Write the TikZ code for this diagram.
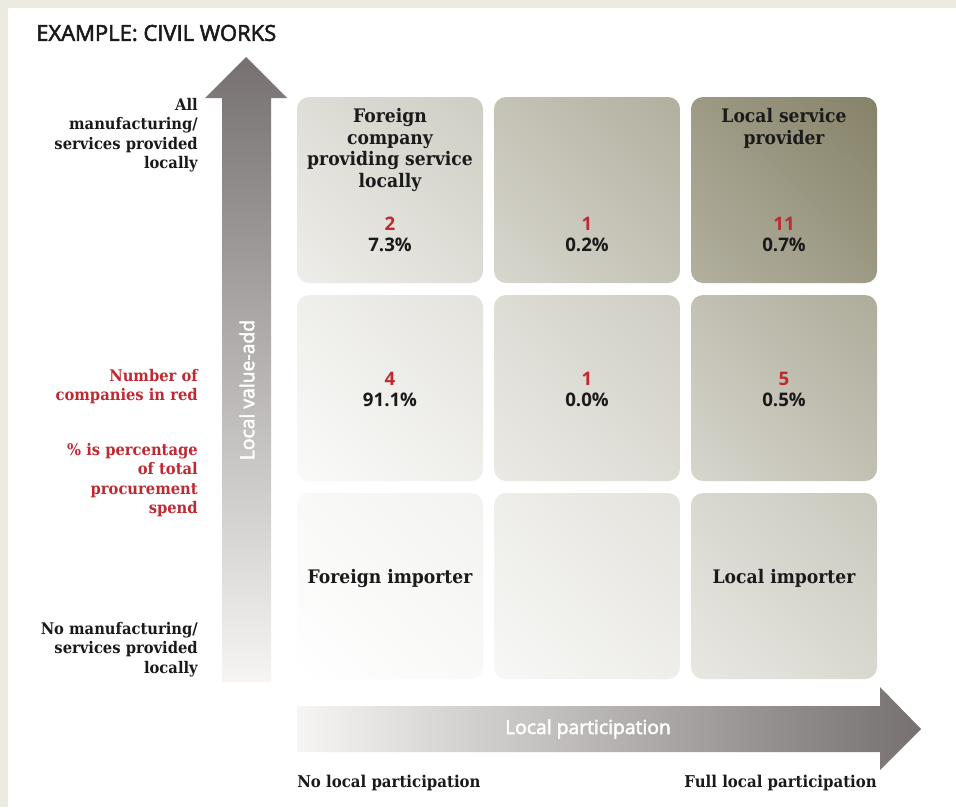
\documentclass[tikz,border=0pt]{standalone}
\usepackage{fontspec}
\setmainfont{DejaVu Serif}[FakeStretch=0.92]
\newfontfamily\labelsans{Open Sans}
\newfontfamily\labelmed{Open Sans}[FakeBold=2.5]
\usepackage{xcolor}
\definecolor{framecolor}{HTML}{EDEAE0}
\definecolor{inkcolor}{HTML}{1A1A1A}
\definecolor{redcolor}{HTML}{BE2A32}
\definecolor{olivecolor}{HTML}{868268}
\definecolor{arrowcolor}{HTML}{767070}
\definecolor{arrowmid}{HTML}{8B8482}
\definecolor{fadecolor}{HTML}{F6F5F4}
\usepackage{tikz}
\usetikzlibrary{positioning,shadings}

\begin{document}
\begin{tikzpicture}[
  x=0.75pt, y=-0.75pt,
  inkcolor,
  cell/.style={shade, rounded corners=9pt, minimum width=139.5pt, minimum height=139.5pt, inner sep=0pt},
  celltext/.style={font=\bfseries\fontsize{14}{16.3}\selectfont, align=center, inner sep=0pt},
  count/.style={font=\labelsans\bfseries\fontsize{14}{16}\selectfont, text=redcolor, inner sep=0pt},
  share/.style={font=\labelsans\bfseries\fontsize{14}{16}\selectfont, inner sep=0pt},
  side/.style={font=\bfseries\fontsize{12}{14.5}\selectfont, align=right, anchor=north east, inner sep=0pt},
  axislabel/.style={font=\labelmed\fontsize{14.5}{16}\selectfont, text=white, inner sep=0pt},
]

  % frame
  \fill[framecolor] (0,0) rectangle (956,807);
  \fill[white] (8,8) rectangle (956,807);
  \useasboundingbox (0,0) rectangle (956,807);

  \node[font=\labelmed\fontsize{16.5}{18}\selectfont, anchor=west, inner sep=0pt] (title) at (36,33) {EXAMPLE: CIVIL WORKS};

  % axes
  \shade[top color=arrowcolor, middle color=arrowmid, bottom color=fadecolor]
    (222,682) -- (222,98) -- (205,98) -- (246,57) -- (287,98) -- (271,98) -- (271,682) -- cycle;
  \shade[left color=fadecolor, middle color=arrowmid, right color=arrowcolor]
    (297,706) -- (880,706) -- (880,687) -- (921,729) -- (880,770) -- (880,752) -- (297,752) -- cycle;
  \node[axislabel, rotate=90] (vlabel) at (247,390) {Local value-add};
  \node[axislabel] (hlabel) at (588,729) {Local participation};

  % grid
  \foreach \row/\col/\lo/\hi in {1/1/14/40, 1/2/32/64, 1/3/63/100,
                                 2/1/4/23, 2/2/17/40, 2/3/33/67,
                                 3/1/0/10, 3/2/6/23, 3/3/19/44}
  {
    \pgfmathtruncatemacro\midval{(\lo+\hi)/2}
    \node[cell, lower left=olivecolor!\lo!white, upper right=olivecolor!\hi!white,
          upper left=olivecolor!\midval!white, lower right=olivecolor!\midval!white]
      (c\row\col) at ({390+197*(\col-1)}, {190+198*(\row-1)}) {};
  }

  \node[celltext, anchor=north] (t11) at (390,108) {Foreign\\company\\providing service\\locally};
  \node[celltext, anchor=north] (t13) at (784,108) {Local service\\provider};
  \node[celltext, anchor=base] (t31) at (390,583) {Foreign importer};
  \node[celltext, anchor=base] (t33) at (784,583) {Local importer};

  \foreach \row/\col/\n/\p in {1/1/2/7.3, 1/2/1/0.2, 1/3/11/0.7,
                               2/1/4/91.1, 2/2/1/0.0, 2/3/5/0.5}
  {
    \node[count] (n\row\col) at ({390+197*(\col-1)}, {224+155*(\row-1)}) {\n};
    \node[share] (p\row\col) at ({390+197*(\col-1)}, {245+155*(\row-1)}) {\p\%};
  }

  % legend
  \node[side] (top) at (198,98) {All\\manufacturing/\\services provided\\locally};
  \node[side, text=redcolor] (key1) at (198,369) {Number of\\companies in red};
  \node[side, text=redcolor] (key2) at (198,443) {\% is percentage\\of total\\procurement\\spend};
  \node[side] (bottom) at (198,622) {No manufacturing/\\services provided\\locally};

  \node[font=\bfseries\fontsize{12.2}{14.5}\selectfont, anchor=west, inner sep=0pt] (left) at (297,783) {No local participation};
  \node[font=\bfseries\fontsize{12.2}{14.5}\selectfont, anchor=east, inner sep=0pt] (right) at (877,783) {Full local participation};

\end{tikzpicture}
\end{document}
